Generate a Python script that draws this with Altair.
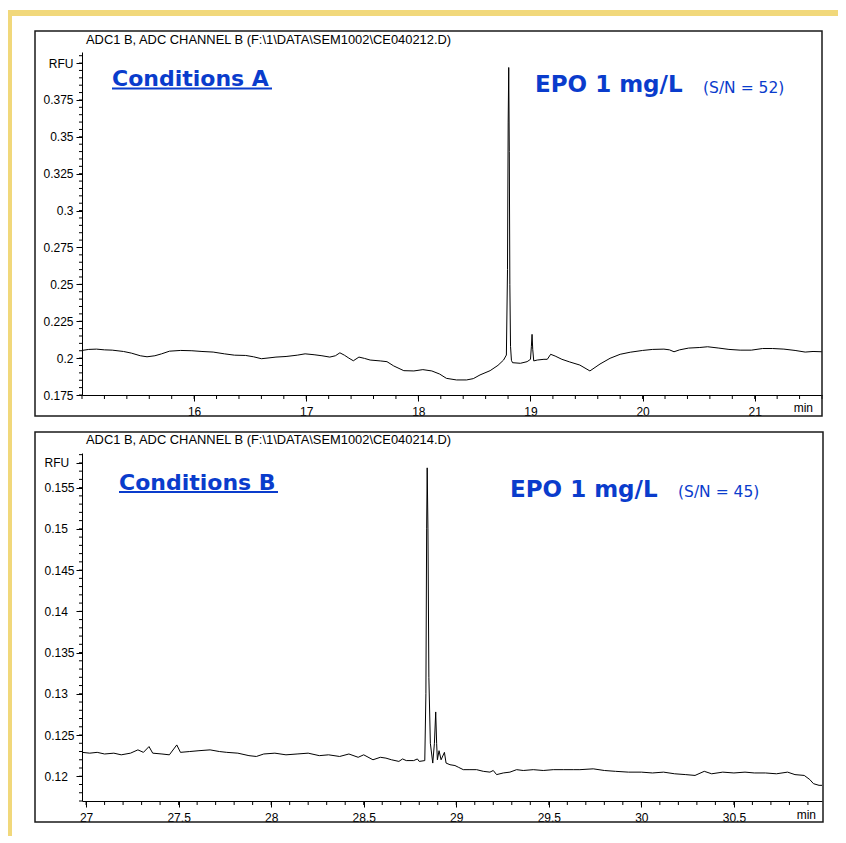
import altair as alt
import pandas as pd

# ---------------- data ----------------
a_time = [15.00, 15.06, 15.13, 15.20, 15.27, 15.37, 15.44, 15.52, 15.58, 15.65, 15.71, 15.78,
          15.88, 15.98, 16.07, 16.17, 16.27, 16.36, 16.46, 16.53, 16.60, 16.65, 16.73, 16.82,
          16.92, 16.99, 17.07, 17.14, 17.21, 17.26, 17.30, 17.34, 17.38, 17.42, 17.47, 17.52,
          17.57, 17.66, 17.72, 17.78, 17.87, 17.96, 18.04, 18.12, 18.19, 18.25, 18.34, 18.43,
          18.49, 18.55, 18.64, 18.71, 18.76, 18.785, 18.795, 18.801, 18.806, 18.811, 18.816,
          18.822, 18.830, 18.84, 18.91, 18.97, 19.00, 19.008, 19.014, 19.020, 19.029, 19.06,
          19.12, 19.15, 19.18, 19.22, 19.28, 19.35, 19.44, 19.53, 19.62, 19.71, 19.80, 19.89,
          20.00, 20.09, 20.19, 20.24, 20.28, 20.33, 20.41, 20.51, 20.58, 20.68, 20.77, 20.87,
          20.97, 21.07, 21.16, 21.26, 21.36, 21.45, 21.52, 21.60]
a_rfu = [0.2052, 0.2059, 0.2061, 0.2056, 0.2054, 0.2045, 0.2034, 0.2016, 0.2009, 0.2016, 0.2029, 0.2047,
         0.2052, 0.2050, 0.2045, 0.2041, 0.2029, 0.2020, 0.2018, 0.2009, 0.1996, 0.2000, 0.2007, 0.2011,
         0.2020, 0.2029, 0.2023, 0.2016, 0.2007, 0.2016, 0.2036, 0.2020, 0.2000, 0.1982, 0.2007, 0.1998,
         0.1987, 0.1981, 0.1976, 0.1947, 0.1915, 0.1913, 0.1922, 0.1913, 0.1892, 0.1863, 0.1852, 0.1852,
         0.1861, 0.1886, 0.1915, 0.1951, 0.1987, 0.2021, 0.2600, 0.3600, 0.3970, 0.3400, 0.2500,
         0.2080, 0.1985, 0.1969, 0.1965, 0.1976, 0.1992, 0.2080, 0.2161, 0.2060, 0.1981, 0.1987,
         0.1992, 0.1992, 0.2026, 0.2014, 0.1992, 0.1974, 0.1953, 0.1913, 0.1960, 0.1999, 0.2026, 0.2040,
         0.2052, 0.2059, 0.2061, 0.2056, 0.2043, 0.2056, 0.2068, 0.2072, 0.2077, 0.2068, 0.2059, 0.2054,
         0.2054, 0.2065, 0.2065, 0.2061, 0.2052, 0.2041, 0.2045, 0.2043]

b_time = [26.978, 27.02, 27.06, 27.10, 27.15, 27.19, 27.24, 27.28, 27.31, 27.34, 27.36, 27.41,
          27.45, 27.49, 27.51, 27.56, 27.61, 27.67, 27.72, 27.76, 27.82, 27.88, 27.92, 27.96,
          28.02, 28.08, 28.14, 28.20, 28.26, 28.31, 28.37, 28.42, 28.47, 28.50, 28.55, 28.59,
          28.62, 28.65, 28.69, 28.71, 28.73, 28.77, 28.79, 28.80, 28.83, 28.836, 28.840, 28.843,
          28.847, 28.852, 28.860, 28.873, 28.882, 28.889, 28.894, 28.898, 28.907, 28.918, 28.936,
          28.945, 28.966, 28.993, 29.011, 29.038, 29.074, 29.110, 29.146, 29.182, 29.200, 29.218,
          29.254, 29.290, 29.326, 29.362, 29.416, 29.470, 29.524, 29.578, 29.632, 29.668, 29.74,
          29.80, 29.86, 29.93, 30.00, 30.06, 30.12, 30.18, 30.24, 30.29, 30.34, 30.38, 30.44,
          30.50, 30.56, 30.61, 30.67, 30.73, 30.79, 30.83, 30.88, 30.91, 30.93, 30.96, 30.976]
b_rfu = [0.1229, 0.1228, 0.1229, 0.1227, 0.1228, 0.1226, 0.1228, 0.1232, 0.1229, 0.1236, 0.1228, 0.1227,
         0.1226, 0.1238, 0.1229, 0.1230, 0.1231, 0.1232, 0.1230, 0.1229, 0.1228, 0.1225, 0.1224, 0.1227,
         0.1228, 0.1226, 0.1227, 0.1228, 0.1225, 0.1226, 0.1224, 0.1227, 0.1223, 0.1226, 0.1220, 0.1223,
         0.1222, 0.1220, 0.1218, 0.1221, 0.1219, 0.1219, 0.1221, 0.1218, 0.1219, 0.1300, 0.1500, 0.1574,
         0.1500, 0.1320, 0.1240, 0.1216, 0.1240, 0.1278, 0.1240, 0.1220, 0.1231, 0.1220, 0.1229,
         0.1216, 0.1214, 0.1213, 0.1211, 0.1208, 0.1208, 0.1208, 0.1206, 0.1205, 0.1207, 0.1202,
         0.1204, 0.1205, 0.1208, 0.1207, 0.1208, 0.1207, 0.1208, 0.1208, 0.1208, 0.1208, 0.1209,
         0.1207, 0.1206, 0.1205, 0.1205, 0.1204, 0.1205, 0.1203, 0.1202, 0.1201, 0.1206, 0.1203, 0.1205,
         0.1204, 0.1205, 0.1204, 0.1204, 0.1203, 0.1205, 0.1202, 0.1201, 0.1196, 0.1191, 0.1189, 0.1189]

titles = ["ADC1 B, ADC CHANNEL B (F:\\1\\DATA\\SEM1002\\CE040212.D)",
          "ADC1 B, ADC CHANNEL B (F:\\1\\DATA\\SEM1002\\CE040214.D)"]
conditions = ["Conditions A", "Conditions B"]
samples = ["EPO 1 mg/L", "EPO 1 mg/L"]
sn_ratios = ["(S/N = 52)", "(S/N = 45)"]
x_unit = "min"
y_unit = "RFU"

# axis tick positions
a_xmajor = [16, 17, 18, 19, 20, 21]
a_xminor = [round(15 + 0.2 * i, 1) for i in range(34)]
a_ymajor = [0.175, 0.2, 0.225, 0.25, 0.275, 0.3, 0.325, 0.35, 0.375, 0.4]
a_yminor = [round(0.175 + 0.005 * i, 3) for i in range(47)]
b_xmajor = [27, 27.5, 28, 28.5, 29, 29.5, 30, 30.5]
b_xminor = [round(27 + 0.1 * i, 1) for i in range(40)]
b_ymajor = [0.12, 0.125, 0.13, 0.135, 0.14, 0.145, 0.15, 0.155, 0.158]
b_yminor = [round(0.117 + 0.001 * i, 3) for i in range(43)]

AX_FONT = "Liberation Sans"
ANN_FONT = "DejaVu Sans"
BLUE = "#0a3ccc"
GOLD = "#f1d87b"
W = 740

one = pd.DataFrame({"k": [0]})


def rect(x, x2, y, y2, **kw):
    return alt.Chart(one).mark_rect(**kw).encode(
        x=alt.value(x), x2=alt.value(x2), y=alt.value(y), y2=alt.value(y2))


def text(s, x, y, align="left", **kw):
    return alt.Chart(one).mark_text(align=align, baseline="alphabetic", **kw).encode(
        x=alt.value(x), y=alt.value(y), text=alt.value(s))


def rule(x, x2, y, **kw):
    return alt.Chart(one).mark_rule(**kw).encode(
        x=alt.value(x), x2=alt.value(x2), y=alt.value(y))


def axis_common():
    return dict(title=None, grid=False, domainColor="black", domainWidth=1,
                tickColor="black", tickWidth=1, tickSize=6, labelFont=AX_FONT, labelFontSize=12,
                labelColor="black", labelOverlap=False, labelFlush=False, labelBound=False)


def panel(times, vals, xdom, ydom, xmajor, xminor, ymajor, yminor, rfu_at, H, yalign, ypad):
    xs = alt.Scale(domain=xdom, nice=False, zero=False)
    ys = alt.Scale(domain=ydom, nice=False, zero=False)
    df = pd.DataFrame({"t": times, "v": vals})
    xaxis = alt.Axis(values=xmajor, labelExpr="format(datum.value, '~g')",
                     labelBaseline="alphabetic", labelPadding=14, **axis_common())
    yaxis = alt.Axis(values=ymajor,
                     labelExpr=(f"abs(datum.value - {rfu_at}) < 1e-6 ? '{y_unit}' : "
                                "format(datum.value, '.3~f')"),
                     labelAlign=yalign, labelPadding=ypad, minExtent=74, maxExtent=74,
                     **axis_common())
    line = alt.Chart(df).mark_line(color="black", strokeWidth=1).encode(
        x=alt.X("t:Q", scale=xs, axis=xaxis),
        y=alt.Y("v:Q", scale=ys, axis=yaxis),
    )
    xmin = alt.Chart(pd.DataFrame({"t": xminor})).mark_rule(color="black", strokeWidth=1).encode(
        x=alt.X("t:Q", scale=xs, axis=xaxis), y=alt.value(H), y2=alt.value(H + 4))
    ymin = alt.Chart(pd.DataFrame({"v": yminor})).mark_rule(color="black", strokeWidth=1).encode(
        y=alt.Y("v:Q", scale=ys, axis=yaxis), x=alt.value(-3), x2=alt.value(0))
    return line, xmin, ymin


HA = 343
lineA, xminA, yminA = panel(a_time, a_rfu, [15.0, 21.6], [0.175, 0.4075],
                            a_xmajor, a_xminor, a_ymajor, a_yminor, 0.4, HA, "right", 3)

panelA = alt.layer(
    lineA,
    xminA,
    yminA,
    rect(-74, -70, -44, -42, fill="white"),
    rect(-74, 756, -42, -36, fill=GOLD),
    rect(-74, -70, -42, 372, fill=GOLD),
    rect(-47, W, -21, HA + 21, fillOpacity=0, stroke="#1a1a1a", strokeWidth=1.5),
    text(titles[0], 4, -8, font=AX_FONT, fontSize=12.9, color="black"),
    text(conditions[0], 30, 34, font=ANN_FONT, fontSize=22, fontWeight="bold", color=BLUE),
    rule(30, 190, 36.5, color=BLUE, strokeWidth=2),
    text(samples[0], 453, 40, font=ANN_FONT, fontSize=23, fontWeight="bold", color=BLUE),
    text(sn_ratios[0], 621, 41, font=ANN_FONT, fontSize=15.5, color=BLUE),
    text(x_unit, 731, 360, align="right", font=AX_FONT, fontSize=12, color="black"),
).properties(width=W, height=HA)

HB = 348
lineB, xminB, yminB = panel(b_time, b_rfu, [26.978, 30.976], [0.117, 0.1592],
                            b_xmajor, b_xminor, b_ymajor, b_yminor, 0.158, HB, "left", 32)

panelB = alt.layer(
    lineB,
    xminB,
    yminB,
    rect(-74, -70, -29, 383, fill=GOLD),
    rect(-47, W + 1, -21, HB + 21, fillOpacity=0, stroke="#1a1a1a", strokeWidth=1.5),
    text(titles[1], 4, -9, font=AX_FONT, fontSize=12.9, color="black"),
    text(conditions[1], 37, 37, font=ANN_FONT, fontSize=22, fontWeight="bold", color=BLUE),
    rule(37, 196, 39, color=BLUE, strokeWidth=2),
    text(samples[1], 428, 44, font=ANN_FONT, fontSize=23, fontWeight="bold", color=BLUE),
    text(sn_ratios[1], 596, 44, font=ANN_FONT, fontSize=15.5, color=BLUE),
    text(x_unit, 734, 366, align="right", font=AX_FONT, fontSize=12, color="black"),
).properties(width=W, height=HB)

chart = alt.vconcat(panelA, panelB, spacing=0).properties(
    padding=0, background="white"
).configure_view(strokeWidth=0)

chart.save("out.html", embed_options={"renderer": "svg", "actions": False})
